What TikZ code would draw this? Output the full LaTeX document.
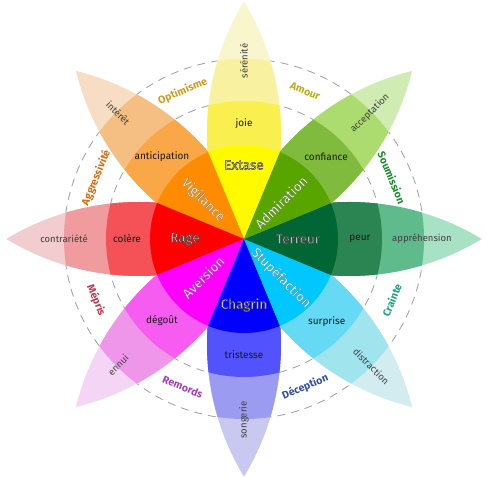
\documentclass[tikz,border=0pt]{standalone}
\usepackage{fontspec}
\setmainfont{Fira Sans}

% texte blanc cerné de gris (mode de rendu 2 : remplir et tracer)
\newcommand{\cerne}[1]{\special{pdf:code 2 Tr 0.5 w 0.25 0.25 0.25 RG}#1\special{pdf:code 0 Tr}}
\newcommand{\cerneR}[1]{\special{pdf:code 2 Tr 0.036 w 0.25 0.25 0.25 RG}#1\special{pdf:code 0 Tr}}

% couleurs des pétales : V vive, M moyenne, L claire, P pâle
\definecolor{amarV}{RGB}{255,250,0}
\definecolor{amarM}{RGB}{249,240,80}
\definecolor{amarL}{RGB}{248,242,160}
\definecolor{amarP}{RGB}{249,245,205}
\definecolor{naraV}{RGB}{255,140,0}
\definecolor{naraM}{RGB}{250,167,72}
\definecolor{naraL}{RGB}{245,190,130}
\definecolor{naraP}{RGB}{247,221,195}
\definecolor{rojoV}{RGB}{255,0,0}
\definecolor{rojoM}{RGB}{245,82,88}
\definecolor{rojoL}{RGB}{240,155,158}
\definecolor{rojoP}{RGB}{241,205,207}
\definecolor{mageV}{RGB}{255,0,255}
\definecolor{mageM}{RGB}{247,92,240}
\definecolor{mageL}{RGB}{239,150,234}
\definecolor{mageP}{RGB}{245,213,245}
\definecolor{azulV}{RGB}{0,0,255}
\definecolor{azulM}{RGB}{82,82,255}
\definecolor{azulL}{RGB}{155,155,242}
\definecolor{azulP}{RGB}{200,200,240}
\definecolor{cianV}{RGB}{0,200,255}
\definecolor{cianM}{RGB}{102,218,245}
\definecolor{cianL}{RGB}{160,228,238}
\definecolor{cianP}{RGB}{210,236,240}
\definecolor{verOV}{RGB}{0,102,51}
\definecolor{verOM}{RGB}{42,133,82}
\definecolor{verOL}{RGB}{95,186,140}
\definecolor{verOP}{RGB}{168,226,196}
\definecolor{verCV}{RGB}{88,165,0}
\definecolor{verCM}{RGB}{128,187,62}
\definecolor{verCL}{RGB}{172,220,112}
\definecolor{verCP}{RGB}{208,236,178}
% couleurs des dyades
\definecolor{dAmour}{RGB}{184,172,24}
\definecolor{dOptim}{RGB}{208,156,32}
\definecolor{dAggr}{RGB}{214,108,16}
\definecolor{dMepris}{RGB}{192,56,80}
\definecolor{dRemords}{RGB}{160,64,192}
\definecolor{dDecep}{RGB}{48,80,168}
\definecolor{dCraint}{RGB}{32,160,128}
\definecolor{dSoum}{RGB}{32,138,48}

\begin{document}
\begin{tikzpicture}[x=1pt, y=1pt,
    emoVive/.style={font=\fontsize{13.5}{14}\selectfont, text=white},
    emoMoy/.style={font=\fontsize{10}{11}\selectfont, text=black!90},
    emoPale/.style={font=\fontsize{9.5}{10}\selectfont, text=black!75},
    dyade/.style={font=\bfseries\fontsize{10.5}{11}\selectfont},
    anneau/.style={draw=gray!70, line width=0.9pt, dash pattern=on 8pt off 6pt}]

    \useasboundingbox (-244,-239) rectangle (243,239);

    % ANNEAUX DES DYADES
    \draw[anneau] (0,0) circle (138pt);
    \draw[anneau] (0,0) circle (180pt);

    % PÉTALES
    \foreach \ang/\col in {90/amar,135/nara,180/rojo,225/mage,270/azul,315/cian,0/verO,45/verC}{
        \begin{scope}[rotate=\ang]
            \clip (105,219) circle (256pt);
            \clip (105,-219) circle (256pt);
            \fill[\col P] (0,0) circle (240pt);
            \fill[\col L] (0,0) circle (180pt);
            \fill[\col M] (0,0) circle (138pt);
        \end{scope}
    }

    % SECTEURS CENTRAUX
    \foreach \ang/\col in {90/amar,135/nara,180/rojo,225/mage,270/azul,315/cian,0/verO,45/verC}{
        \fill[\col V] (0,0) -- (\ang-22.5:94pt)
            arc[start angle=\ang-22.5, end angle=\ang+22.5, radius=94pt] -- cycle;
    }

    % ÉMOTIONS VIVES
    \node[emoVive] (extase) at (0,74) {\cerne{Extase}};
    \node[emoVive, rotate=-45] (vigilance) at (-41,39) {\cerneR{Vigilance}};
    \node[emoVive] (rage) at (-59,0) {\cerne{Rage}};
    \node[emoVive, rotate=45] (aversion) at (-41,-38) {\cerneR{Aversion}};
    \node[emoVive] (chagrin) at (0,-66) {\cerne{Chagrin}};
    \node[emoVive, rotate=-45] (stupefaction) at (37,-39) {\cerneR{Stupéfaction}};
    \node[emoVive] (terreur) at (54,0) {\cerne{Terreur}};
    \node[emoVive, rotate=45] (admiration) at (37,37) {\cerneR{Admiration}};

    % ÉMOTIONS MOYENNES
    \node[emoMoy] (joie) at (90:115) {joie};
    \node[emoMoy] (anticipation) at (135:116) {anticipation};
    \node[emoMoy] (colere) at (180:117) {colère};
    \node[emoMoy] (degout) at (225:116) {dégoût};
    \node[emoMoy] (tristesse) at (270:116) {tristesse};
    \node[emoMoy] (surprise) at (315:117) {surprise};
    \node[emoMoy] (peur) at (0:116) {peur};
    \node[emoMoy] (confiance) at (45:116) {confiance};

    % ÉMOTIONS PÂLES
    \node[emoPale, rotate=90] (serenite) at (90:178) {sérénité};
    \node[emoPale, rotate=-45] (interet) at (135:178) {intérêt};
    \node[emoPale] (contrariete) at (180:180) {contrariété};
    \node[emoPale, rotate=45] (ennui) at (225:178) {ennui};
    \node[emoPale, rotate=90] (songerie) at (270:181) {songerie};
    \node[emoPale, rotate=-45] (distraction) at (315:180) {distraction};
    \node[emoPale] (apprehension) at (0:178) {appréhension};
    \node[emoPale, rotate=45] (acceptation) at (45:178) {acceptation};

    % DYADES
    \node[dyade, text=dAmour, rotate=-22.5] (amour) at (67.5:160) {Amour};
    \node[dyade, text=dOptim, rotate=22.5] (optimisme) at (112.5:160) {Optimisme};
    \node[dyade, text=dAggr, rotate=67.5] (aggressivite) at (157.5:160) {Aggressivité};
    \node[dyade, text=dMepris, rotate=-67.5] (mepris) at (202.5:160) {Mépris};
    \node[dyade, text=dRemords, rotate=-22.5] (remords) at (247.5:160) {Remords};
    \node[dyade, text=dDecep, rotate=22.5] (deception) at (292.5:160) {Déception};
    \node[dyade, text=dCraint, rotate=67.5] (crainte) at (337.5:160) {Crainte};
    \node[dyade, text=dSoum, rotate=-67.5] (soumission) at (22.5:160) {Soumission};
\end{tikzpicture}
\end{document}
